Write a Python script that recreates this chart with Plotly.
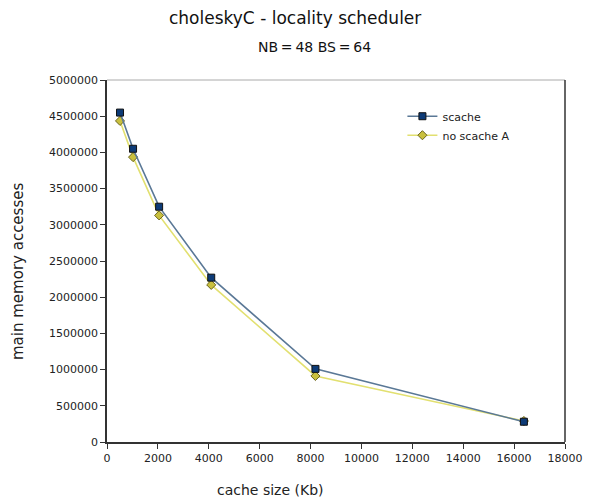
import plotly.graph_objects as go

# cache sizes in Kb
cache_kb = [512, 1024, 2048, 4096, 8192, 16384]
# main memory accesses per configuration
scache = [4550000, 4050000, 3250000, 2270000, 1010000, 280000]
no_scache_a = [4435000, 3935000, 3130000, 2170000, 912000, 290000]

x_ticks = list(range(0, 18001, 2000))
y_ticks = list(range(0, 5000001, 500000))

FONT = "DejaVu Sans"

fig = go.Figure()
fig.add_trace(go.Scatter(
    x=cache_kb, y=no_scache_a, name="no scache A", mode="lines+markers",
    line=dict(color="#e2e070", width=1.6),
    marker=dict(symbol="diamond", size=7, color="#c9c03e",
                line=dict(color="#6b6520", width=1)),
))
fig.add_trace(go.Scatter(
    x=cache_kb, y=scache, name="scache", mode="lines+markers",
    line=dict(color="#5a7896", width=1.6),
    marker=dict(symbol="square", size=7, color="#0d3b77",
                line=dict(color="#111111", width=1)),
))

fig.update_layout(
    width=591, height=500,
    margin=dict(l=107, r=26, t=80, b=58, autoexpand=False),
    paper_bgcolor="white", plot_bgcolor="white",
    font=dict(family=FONT, size=11, color="#222"),
    showlegend=True,
    legend=dict(x=0.645, y=0.94, xanchor="left", yanchor="top",
                traceorder="reversed", bgcolor="rgba(0,0,0,0)",
                font=dict(size=11), itemwidth=30, tracegroupgap=0),
    xaxis=dict(range=[0, 18000], tickvals=x_ticks,
               ticktext=[str(v) for v in x_ticks], showgrid=False,
               zeroline=False, showline=True, linecolor="#333", linewidth=1.5,
               ticks="outside", ticklen=5, tickcolor="#333",
               tickfont=dict(size=11), automargin=False),
    yaxis=dict(range=[0, 5000000], tickvals=y_ticks,
               ticktext=[str(v) for v in y_ticks], showgrid=False,
               zeroline=False, showline=True, linecolor="#333", linewidth=1.5,
               ticks="outside", ticklen=5, tickcolor="#333",
               tickfont=dict(size=11), automargin=False),
    annotations=[
        dict(text="choleskyC - locality scheduler", x=295, y=18,
             font=dict(size=17, color="#111")),
        dict(text="NB\u2009=\u200948 BS\u2009=\u200964", x=314, y=47,
             font=dict(size=14, color="#111")),
        dict(text="cache size (Kb)", x=270, y=490,
             font=dict(size=14, color="#222")),
        dict(text="main memory accesses", x=18, y=272, textangle=-90,
             font=dict(size=15, color="#222")),
    ],
)

# pixel-positioned title/labels: convert to paper coordinates
pw = 591 - 107 - 26
ph = 500 - 80 - 58
for a in fig.layout.annotations:
    a.x = (a.x - 107) / pw
    a.y = 1 - (a.y - 80) / ph
    a.xref = "paper"
    a.yref = "paper"
    a.xanchor = "center"
    a.yanchor = "middle"
    a.showarrow = False

# frame: light top edge, dark right edge
fig.add_shape(type="line", xref="paper", yref="paper", x0=0, x1=1, y0=1, y1=1,
              line=dict(color="#aaaaaa", width=1))
fig.add_shape(type="line", xref="paper", yref="paper", x0=1, x1=1, y0=0, y1=1,
              line=dict(color="#333333", width=1.5))

fig.write_html("out.html")
